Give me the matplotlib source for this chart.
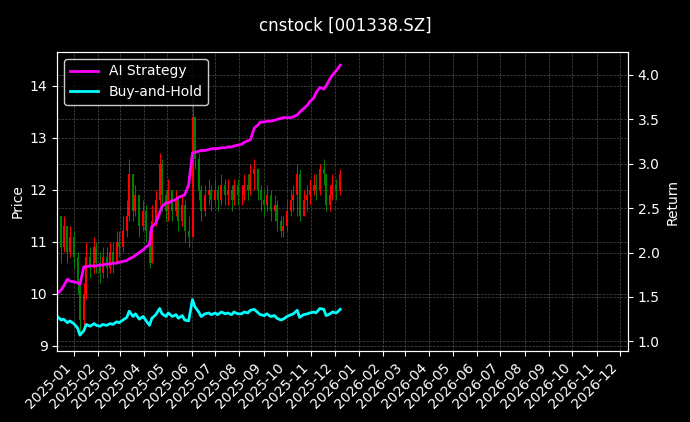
import matplotlib
matplotlib.use("Agg")
import matplotlib.pyplot as plt
import matplotlib.dates as mdates
import numpy as np
import pandas as pd

# bars every 3 business days, 2024-12-11 .. 2025-12-10
dates = pd.bdate_range("2024-12-11", "2025-12-10")[::3]

closes = [11.5, 10.9, 11.3, 10.8, 11.1,
          10.7, 10.2, 9.5, 10.0, 10.7, 10.5, 10.9, 10.6,
          10.4, 10.7, 10.5, 10.8, 10.6, 11.0, 10.9,
          11.2, 11.5, 12.3, 11.6, 11.9, 11.3, 11.6,
          11.2, 10.6, 11.4, 11.8, 12.5, 11.9, 11.6,
          12.0, 11.6, 11.8, 11.4, 11.7, 11.2, 11.1,
          13.4, 12.6, 12.0, 11.6, 11.9, 12.0, 11.8,
          12.0, 11.8, 12.1, 11.9, 12.0, 11.8, 12.1, 11.9,
          11.9, 12.1, 12.0, 12.3, 12.4, 12.0, 11.8,
          11.7, 11.9, 11.6, 11.7, 11.4, 11.2, 11.3,
          11.6, 11.8, 11.9, 12.3, 11.5, 11.8, 11.9, 12.0,
          12.1, 12.0, 12.4, 12.3, 11.7, 11.9, 12.1,
          12.0, 12.3]
opens = [11.8] + closes[:-1]
highs = [11.8, 11.5, 11.5, 11.3, 11.3,
         11.2, 10.8, 10.3, 10.2, 11.0, 10.9, 11.1, 11.0,
         10.8, 10.9, 10.9, 11.0, 11.0, 11.2, 11.2,
         11.5, 11.8, 12.6, 12.3, 12.1, 11.9, 11.8,
         11.7, 11.3, 11.7, 12.0, 12.7, 12.6, 12.0,
         12.2, 12.0, 12.0, 11.9, 11.9, 11.8, 11.5,
         13.9, 13.2, 12.7, 12.1, 12.1, 12.2, 12.1,
         12.2, 12.1, 12.3, 12.2, 12.2, 12.1, 12.2, 12.2,
         12.1, 12.3, 12.3, 12.5, 12.6, 12.4, 12.1,
         12.0, 12.1, 12.0, 11.9, 11.8, 11.5, 11.5,
         11.8, 12.0, 12.1, 12.5, 12.4, 12.0, 12.1, 12.2,
         12.3, 12.3, 12.5, 12.6, 12.3, 12.1, 12.3,
         12.2, 12.4]
lows = [11.2, 10.6, 10.8, 10.6, 10.7,
        10.5, 10.0, 9.2, 9.4, 9.9, 10.3, 10.4, 10.4,
        10.2, 10.3, 10.3, 10.4, 10.4, 10.6, 10.7,
        10.8, 11.1, 11.4, 11.4, 11.5, 11.1, 11.2,
        11.0, 10.5, 10.6, 11.3, 11.7, 11.6, 11.4,
        11.4, 11.4, 11.5, 11.2, 11.3, 11.0, 10.9,
        11.1, 12.4, 11.8, 11.4, 11.5, 11.7, 11.6,
        11.7, 11.6, 11.7, 11.7, 11.7, 11.6, 11.7, 11.7,
        11.7, 11.8, 11.8, 11.9, 12.0, 11.8, 11.6,
        11.5, 11.6, 11.4, 11.4, 11.2, 11.1, 11.1,
        11.2, 11.5, 11.6, 11.5, 11.4, 11.5, 11.6, 11.7,
        11.9, 11.8, 11.9, 12.1, 11.6, 11.6, 11.8,
        11.8, 11.9]

ai_strategy = [1.54, 1.58, 1.62, 1.70, 1.68,
               1.67, 1.66, 1.64, 1.84, 1.84, 1.85, 1.85, 1.85,
               1.86, 1.86, 1.87, 1.87, 1.88, 1.88, 1.89,
               1.90, 1.91, 1.93, 1.95, 1.97, 2.00, 2.03,
               2.06, 2.09, 2.29, 2.33, 2.45, 2.52, 2.56,
               2.56, 2.58, 2.60, 2.62, 2.64, 2.65, 2.76,
               3.12, 3.13, 3.14, 3.15, 3.15, 3.16, 3.17,
               3.17, 3.17, 3.18, 3.18, 3.19, 3.19, 3.20, 3.21,
               3.22, 3.24, 3.26, 3.27, 3.40, 3.44, 3.47,
               3.47, 3.48, 3.48, 3.49, 3.50, 3.51, 3.52,
               3.52, 3.52, 3.53, 3.55, 3.58, 3.62, 3.66, 3.70,
               3.74, 3.80, 3.86, 3.84, 3.88, 3.96, 4.00,
               4.05, 4.11]
buy_hold = [1.28, 1.24, 1.25, 1.21, 1.23,
            1.20, 1.15, 1.07, 1.12, 1.19, 1.17, 1.20, 1.18,
            1.17, 1.19, 1.18, 1.20, 1.19, 1.22, 1.21,
            1.24, 1.27, 1.34, 1.28, 1.31, 1.25, 1.28,
            1.24, 1.18, 1.26, 1.30, 1.37, 1.31, 1.28,
            1.32, 1.28, 1.30, 1.26, 1.29, 1.24, 1.23,
            1.47, 1.39, 1.33, 1.28, 1.31, 1.32, 1.30,
            1.32, 1.30, 1.33, 1.31, 1.32, 1.30, 1.33, 1.31,
            1.31, 1.33, 1.32, 1.35, 1.36, 1.32, 1.30,
            1.29, 1.31, 1.28, 1.29, 1.26, 1.24, 1.25,
            1.28, 1.30, 1.31, 1.35, 1.27, 1.30, 1.31, 1.32,
            1.33, 1.32, 1.37, 1.36, 1.29, 1.31, 1.33,
            1.32, 1.36]

plt.style.use("dark_background")
fig = plt.figure(figsize=(6.9, 4.22), dpi=100)
ax = fig.add_axes([0.083, 0.168, 0.827, 0.709])
ax2 = ax.twinx()

x = mdates.date2num(dates)
o = np.array(opens); c = np.array(closes)
cols = np.where(c >= o, "red", "green")
ax.vlines(x, lows, highs, colors=cols, linewidth=0.7)
ax.vlines(x, np.minimum(o, c), np.maximum(o, c), colors=cols, linewidth=1.5)

ax2.plot(dates, ai_strategy, color="magenta", linewidth=2, label="AI Strategy")
ax2.plot(dates, buy_hold, color="cyan", linewidth=2, label="Buy-and-Hold")

ax.set_ylim(8.9, 14.65)
ax2.set_ylim(0.89, 4.26)
ax.set_xlim(pd.Timestamp("2024-12-11"), pd.Timestamp("2026-12-11"))
ax.xaxis.set_major_locator(mdates.MonthLocator())
ax.xaxis.set_major_formatter(mdates.DateFormatter("%Y-%m"))
plt.setp(ax.get_xticklabels(), rotation=45, ha="right")

ax.set_ylabel("Price")
ax2.set_ylabel("Return")
ax.grid(True, color="gray", linestyle="--", linewidth=0.5, alpha=0.6)
ax2.grid(True, axis="y", color="gray", linestyle="--", linewidth=0.5, alpha=0.6)
ax2.legend(loc="upper left", facecolor="black", edgecolor="white")
fig.suptitle("cnstock [001338.SZ]", y=0.96)

fig.savefig("out.png", dpi=100, facecolor="black")
